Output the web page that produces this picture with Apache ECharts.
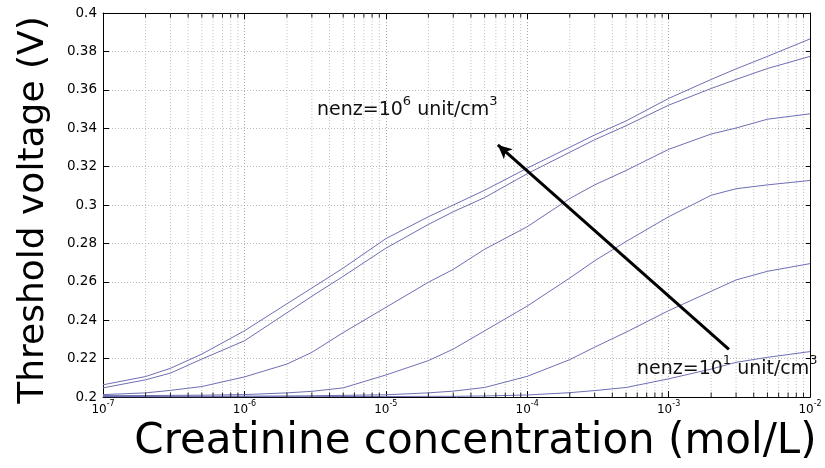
<!DOCTYPE html>
<html lang="en">
  <head>
    <meta charset="UTF-8" />
    <title>Threshold voltage vs creatinine concentration</title>
    <style>
      * {
        padding: 0;
        margin: 0;
      }
      body {
        background: #fff;
      }
    </style>
    <script src="https://cdn.jsdelivr.net/npm/echarts@6/dist/echarts.min.js"></script>
  </head>
  <body>
    <div id="main" style="width: 825px; height: 468px;"></div>
    <script type="text/javascript">
      var concentration = [1e-7, 2e-7, 3e-7, 5e-7, 1e-6, 2e-6, 3e-6, 5e-6, 1e-5, 2e-5, 3e-5, 5e-5,
        1e-4, 2e-4, 3e-4, 5e-4, 1e-3, 2e-3, 3e-3, 5e-3, 1e-2];

      // threshold voltage (V), one curve per enzyme density nenz
      var vNenz1e6 = [0.2064, 0.2107, 0.2150, 0.2224, 0.2345, 0.2486, 0.2568, 0.2672, 0.2825, 0.2939, 0.3000,
        0.3077, 0.3192, 0.3301, 0.3365, 0.3438, 0.3555, 0.3654, 0.3709, 0.3774, 0.3865];
      var vNenz1e5 = [0.2048, 0.2090, 0.2125, 0.2198, 0.2293, 0.2439, 0.2525, 0.2629, 0.2775, 0.2899, 0.2965,
        0.3039, 0.3163, 0.3275, 0.3340, 0.3413, 0.3520, 0.3607, 0.3654, 0.3711, 0.3774];
      var vNenz1e4 = [0.2013, 0.2022, 0.2035, 0.2055, 0.2105, 0.2172, 0.2233, 0.2336, 0.2467, 0.2598, 0.2665,
        0.2770, 0.2887, 0.3034, 0.3105, 0.3180, 0.3290, 0.3370, 0.3401, 0.3447, 0.3475];
      var vNenz1e3 = [0.2008, 0.2008, 0.2009, 0.2010, 0.2013, 0.2022, 0.2030, 0.2048, 0.2115, 0.2190, 0.2250,
        0.2345, 0.2474, 0.2620, 0.2710, 0.2810, 0.2939, 0.3051, 0.3085, 0.3105, 0.3128];
      var vNenz1e2 = [0.2003, 0.2003, 0.2004, 0.2004, 0.2005, 0.2006, 0.2007, 0.2009, 0.2012, 0.2022, 0.2031,
        0.2050, 0.2108, 0.2195, 0.2260, 0.2338, 0.2450, 0.2551, 0.2610, 0.2655, 0.2695];
      var vNenz1e1 = [0.2001, 0.2001, 0.2001, 0.2001, 0.2002, 0.2002, 0.2002, 0.2003, 0.2003, 0.2004, 0.2004,
        0.2006, 0.2011, 0.2023, 0.2034, 0.2050, 0.2095, 0.2146, 0.2181, 0.2207, 0.2237];

      var curves = [vNenz1e6, vNenz1e5, vNenz1e4, vNenz1e3, vNenz1e2, vNenz1e1];
      var curveNames = ['nenz=1e6', 'nenz=1e5', 'nenz=1e4', 'nenz=1e3', 'nenz=1e2', 'nenz=1e1'];

      // axis ticks
      var xTickPowers = [-7, -6, -5, -4, -3, -2];
      var yMin = 0.2, yMax = 0.4, yStep = 0.02;

      // arrow from the nenz=10^1 label towards the nenz=10^6 label
      var arrowFrom = [2.67e-3, 0.2248];
      var arrowTo = [6.2e-5, 0.3313];

      var xMin = Math.pow(10, xTickPowers[0]);
      var xMax = Math.pow(10, xTickPowers[xTickPowers.length - 1]);

      var font = 'DejaVu Sans';
      var lineColor = '#6e6eb4';

      // minor log gridlines / ticks at 2..9 of every decade (broken by nulls)
      var minorGrid = [], minorTicks = [];
      for (var p = xTickPowers[0]; p < xTickPowers[xTickPowers.length - 1]; p++) {
        for (var k = 2; k <= 9; k++) {
          var v = k * Math.pow(10, p);
          minorGrid.push([v, yMin], [v, yMax], [v, null]);
          minorTicks.push([v, yMin], [v, yMin + 0.0024], [v, null]);
          minorTicks.push([v, yMax], [v, yMax - 0.0024], [v, null]);
        }
      }

      var myChart = echarts.init(document.getElementById('main'));

      var series = [];
      series.push({
        type: 'line',
        z: 1,
        silent: true,
        symbol: 'none',
        connectNulls: false,
        lineStyle: {color: '#bdbdbd', type: [1, 2], width: 1},
        data: minorGrid
      });
      series.push({
        type: 'line',
        z: 4,
        silent: true,
        symbol: 'none',
        connectNulls: false,
        lineStyle: {color: '#222', width: 1},
        data: minorTicks
      });

      curves.forEach(function (curve, i) {
        series.push({
          name: curveNames[i],
          type: 'line',
          z: 3,
          showSymbol: false,
          symbol: 'none',
          lineStyle: {color: lineColor, width: 1},
          data: concentration.map(function (c, j) { return [c, curve[j]]; })
        });
      });

      series.push({
        type: 'line',
        z: 5,
        data: [],
        markLine: {
          silent: true,
          animation: false,
          symbol: ['none', 'arrow'],
          symbolSize: [10, 14],
          label: {show: false},
          lineStyle: {color: '#000', type: 'solid', width: 3},
          data: [[{coord: arrowFrom}, {coord: arrowTo}]]
        }
      });

      var xLabelRich = {
        b: {fontFamily: font, fontSize: 12, color: '#000', lineHeight: 20},
        s: {fontFamily: font, fontSize: 8, color: '#000', lineHeight: 8, verticalAlign: 'top'}
      };
      var annRich = {
        b: {fontFamily: font, fontSize: 19, fill: '#111', color: '#111', lineHeight: 30},
        s: {fontFamily: font, fontSize: 13, fill: '#111', color: '#111', lineHeight: 15, verticalAlign: 'top'}
      };

      var option = {
        backgroundColor: '#fff',
        animation: false,
        grid: {left: 103, right: 15, top: 13, bottom: 68, containLabel: false},
        xAxis: [
          {
            type: 'log',
            logBase: 10,
            min: xMin,
            max: xMax,
            splitNumber: 5,
            name: 'Creatinine concentration (mol/L)',
            nameLocation: 'middle',
            nameGap: 16,
            nameTextStyle: {fontFamily: font, fontSize: 42, color: '#000', padding: [0, 0, 0, 38]},
            axisLine: {lineStyle: {color: '#000', width: 1}},
            axisTick: {inside: true, length: 6, lineStyle: {color: '#000'}},
            axisLabel: {
              margin: 3,
              rich: xLabelRich,
              formatter: function (v) {
                var e = Math.round(Math.log10(v));
                return '{b|10}{s|' + e + '}';
              }
            },
            splitLine: {show: true, lineStyle: {color: '#a8a8a8', type: [1, 2], width: 1}}
          },
          {
            type: 'log',
            logBase: 10,
            position: 'top',
            min: xMin,
            max: xMax,
            splitNumber: 5,
            axisLine: {lineStyle: {color: '#000', width: 1}},
            axisTick: {inside: true, length: 6, lineStyle: {color: '#000'}},
            axisLabel: {show: false},
            splitLine: {show: false}
          }
        ],
        yAxis: [
          {
            type: 'value',
            min: yMin,
            max: yMax,
            interval: yStep,
            name: 'Threshold voltage (V)',
            nameLocation: 'middle',
            nameGap: 51,
            nameTextStyle: {fontFamily: font, fontSize: 36, color: '#000', padding: [0, 10, 0, 0]},
            axisLine: {show: true, lineStyle: {color: '#000', width: 1}},
            axisTick: {show: true, inside: true, length: 6, lineStyle: {color: '#000'}},
            axisLabel: {margin: 6, fontFamily: font, fontSize: 13.5, color: '#000'},
            splitLine: {show: true, lineStyle: {color: '#b9b9b9', type: [1, 2], width: 1}}
          },
          {
            type: 'value',
            position: 'right',
            min: yMin,
            max: yMax,
            interval: yStep,
            axisLine: {show: true, lineStyle: {color: '#000', width: 1}},
            axisTick: {show: true, inside: true, length: 4, lineStyle: {color: '#000'}},
            axisLabel: {show: false},
            splitLine: {show: false}
          }
        ],
        graphic: [
          {
            type: 'text',
            x: 317,
            y: 110,
            z: 10,
            style: {
              text: '{b|nenz=10}{s|6}{b| unit/cm}{s|3}',
              rich: annRich,
              fill: '#111',
              verticalAlign: 'middle',
              textVerticalAlign: 'middle'
            }
          },
          {
            type: 'text',
            x: 637,
            y: 369,
            z: 10,
            style: {
              text: '{b|nenz=10}{s|1}{b| unit/cm}{s|3}',
              rich: annRich,
              fill: '#111',
              verticalAlign: 'middle',
              textVerticalAlign: 'middle'
            }
          }
        ],
        series: series
      };

      myChart.setOption(option, true);
    </script>
  </body>
</html>
